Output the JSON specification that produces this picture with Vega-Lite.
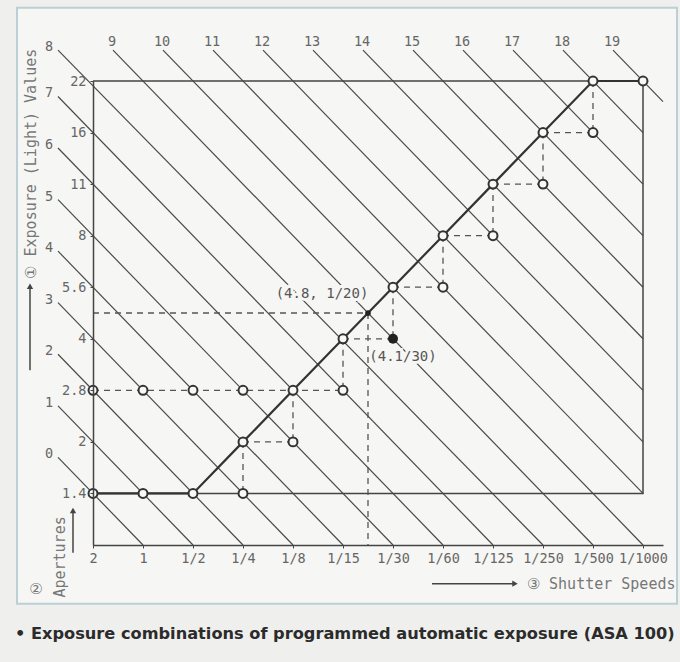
{
  "$schema": "https://vega.github.io/schema/vega-lite/v6.json",
  "width": 570,
  "height": 464,
  "autosize": {"type": "none"},
  "padding": {"left": 93, "top": 81, "right": 17, "bottom": 117},
  "background": "#efefed",
  "config": {"view": {"stroke": null}},
  "title": {
    "text": "• Exposure combinations of programmed automatic exposure (ASA 100)",
    "orient": "bottom",
    "anchor": "start",
    "frame": "group",
    "dx": -78,
    "offset": 21,
    "font": "DejaVu Sans",
    "fontSize": 16.2,
    "fontWeight": "bold",
    "color": "#2b2b2b"
  },
  "datasets": {
    "border": [{"s": -1.52, "a": 9.42, "s2": 11.68, "a2": -2.14}],
    "ev": [
      {"ev": 0, "s": -0.7, "a": 0.7, "s2": 1, "a2": -1},
      {"ev": 1, "s": -0.7, "a": 1.7, "s2": 2, "a2": -1},
      {"ev": 2, "s": -0.7, "a": 2.7, "s2": 3, "a2": -1},
      {"ev": 3, "s": -0.7, "a": 3.7, "s2": 4, "a2": -1},
      {"ev": 4, "s": -0.7, "a": 4.7, "s2": 5, "a2": -1},
      {"ev": 5, "s": -0.7, "a": 5.7, "s2": 6, "a2": -1},
      {"ev": 6, "s": -0.7, "a": 6.7, "s2": 7, "a2": -1},
      {"ev": 7, "s": -0.7, "a": 7.7, "s2": 8, "a2": -1},
      {"ev": 8, "s": -0.7, "a": 8.6, "s2": 9, "a2": -1},
      {"ev": 9, "s": 0.4, "a": 8.6, "s2": 10, "a2": -1},
      {"ev": 10, "s": 1.4, "a": 8.6, "s2": 11, "a2": -1},
      {"ev": 11, "s": 2.4, "a": 8.6, "s2": 11, "a2": 0},
      {"ev": 12, "s": 3.4, "a": 8.6, "s2": 11, "a2": 1},
      {"ev": 13, "s": 4.4, "a": 8.6, "s2": 11, "a2": 2},
      {"ev": 14, "s": 5.4, "a": 8.6, "s2": 11, "a2": 3},
      {"ev": 15, "s": 6.4, "a": 8.6, "s2": 11, "a2": 4},
      {"ev": 16, "s": 7.4, "a": 8.6, "s2": 11, "a2": 5},
      {"ev": 17, "s": 8.4, "a": 8.6, "s2": 11, "a2": 6},
      {"ev": 18, "s": 9.4, "a": 8.6, "s2": 11, "a2": 7},
      {"ev": 19, "s": 10.4, "a": 8.6, "s2": 11.4, "a2": 7.6}
    ],
    "frame": [
      {"i": 0, "s": 0, "a": 8},
      {"i": 1, "s": 11, "a": 8},
      {"i": 2, "s": 11, "a": 0},
      {"i": 3, "s": 0, "a": 0}
    ],
    "dash": [
      {"s": 0, "a": 2, "s2": 5, "a2": 2},
      {"s": 3, "a": 1, "s2": 4, "a2": 1},
      {"s": 3, "a": 1, "s2": 3, "a2": 0},
      {"s": 4, "a": 2, "s2": 4, "a2": 1},
      {"s": 5, "a": 3, "s2": 6, "a2": 3},
      {"s": 5, "a": 3, "s2": 5, "a2": 2},
      {"s": 6, "a": 4, "s2": 7, "a2": 4},
      {"s": 6, "a": 4, "s2": 6, "a2": 3},
      {"s": 7, "a": 5, "s2": 8, "a2": 5},
      {"s": 7, "a": 5, "s2": 7, "a2": 4},
      {"s": 8, "a": 6, "s2": 9, "a2": 6},
      {"s": 8, "a": 6, "s2": 8, "a2": 5},
      {"s": 9, "a": 7, "s2": 10, "a2": 7},
      {"s": 9, "a": 7, "s2": 9, "a2": 6},
      {"s": 10, "a": 8, "s2": 10, "a2": 7},
      {"s": 0, "a": 3.5, "s2": 5.5, "a2": 3.5},
      {"s": 5.5, "a": 3.5, "s2": 5.5, "a2": -1}
    ],
    "prog": [
      {"s": 0, "a": 0}, {"s": 1, "a": 0}, {"s": 2, "a": 0}, {"s": 3, "a": 1},
      {"s": 4, "a": 2}, {"s": 5, "a": 3}, {"s": 6, "a": 4}, {"s": 7, "a": 5},
      {"s": 8, "a": 6}, {"s": 9, "a": 7}, {"s": 10, "a": 8}, {"s": 11, "a": 8}
    ],
    "pts": [
      {"s": 0, "a": 0, "kind": "open"}, {"s": 1, "a": 0, "kind": "open"},
      {"s": 2, "a": 0, "kind": "open"}, {"s": 3, "a": 1, "kind": "open"},
      {"s": 4, "a": 2, "kind": "open"}, {"s": 5, "a": 3, "kind": "open"},
      {"s": 6, "a": 4, "kind": "open"}, {"s": 7, "a": 5, "kind": "open"},
      {"s": 8, "a": 6, "kind": "open"}, {"s": 9, "a": 7, "kind": "open"},
      {"s": 10, "a": 8, "kind": "open"}, {"s": 11, "a": 8, "kind": "open"},
      {"s": 0, "a": 2, "kind": "open"}, {"s": 1, "a": 2, "kind": "open"},
      {"s": 2, "a": 2, "kind": "open"}, {"s": 3, "a": 2, "kind": "open"},
      {"s": 5, "a": 2, "kind": "open"}, {"s": 3, "a": 0, "kind": "open"},
      {"s": 4, "a": 1, "kind": "open"}, {"s": 7, "a": 4, "kind": "open"},
      {"s": 8, "a": 5, "kind": "open"}, {"s": 9, "a": 6, "kind": "open"},
      {"s": 10, "a": 7, "kind": "open"},
      {"s": 6, "a": 3, "kind": "big"},
      {"s": 5.5, "a": 3.5, "kind": "small"}
    ],
    "ann": [
      {"t": "(4.8, 1/20)", "s": 4.58, "a": 3.86},
      {"t": "(4.1/30)", "s": 6.2, "a": 2.64}
    ],
    "notes": [
      {"t": "②", "s": -1.14, "a": -1.86}
    ],
    "vnotes": [
      {"t": "Apertures", "s": -0.66, "a": -2.02}
    ],
    "arrows": [
      {"s": -1.26, "a": 4.02, "s2": -1.26, "a2": 2.39, "dir": "up"},
      {"s": -0.4, "a": -0.33, "s2": -0.4, "a2": -1.15, "dir": "up"},
      {"s": 8.44, "a": -1.75, "s2": 6.78, "a2": -1.75, "dir": "right"}
    ]
  },
  "encoding": {
    "x": {
      "field": "s",
      "type": "quantitative",
      "scale": {"domain": [0, 11.4], "nice": false, "zero": false},
      "axis": {
        "zindex": 1,
        "values": [0, 1, 2, 3, 4, 5, 6, 7, 8, 9, 10, 11],
        "labelExpr": "['2','1','1/2','1/4','1/8','1/15','1/30','1/60','1/125','1/250','1/500','1/1000'][datum.value]",
        "grid": false,
        "domainColor": "#444",
        "domainWidth": 1.5,
        "tickColor": "#444",
        "tickSize": 3,
        "labelFont": "DejaVu Sans Mono",
        "labelFontSize": 13.5,
        "labelColor": "#666",
        "labelPadding": 3,
        "labelFlush": false,
        "labelOverlap": false,
        "title": "③ Shutter Speeds",
        "titleFont": "DejaVu Sans Mono",
        "titleFontSize": 15,
        "titleFontWeight": "normal",
        "titleColor": "#777",
        "titleX": 582,
        "titleY": 38,
        "titleAlign": "right",
        "titleBaseline": "middle"
      }
    },
    "y": {
      "field": "a",
      "type": "quantitative",
      "scale": {"domain": [-1, 8], "nice": false, "zero": false},
      "axis": {
        "zindex": 1,
        "values": [0, 1, 2, 3, 4, 5, 6, 7, 8],
        "labelExpr": "['1.4','2','2.8','4','5.6','8','11','16','22'][datum.value]",
        "grid": false,
        "domainColor": "#444",
        "domainWidth": 1.5,
        "tickColor": "#444",
        "tickSize": 3,
        "labelFont": "DejaVu Sans Mono",
        "labelFontSize": 13.5,
        "labelColor": "#666",
        "labelPadding": 4,
        "labelFlush": false,
        "labelOverlap": false,
        "title": "① Exposure (Light) Values",
        "titleFont": "DejaVu Sans Mono",
        "titleFontSize": 15,
        "titleFontWeight": "normal",
        "titleColor": "#777",
        "titleAngle": 270,
        "titleX": -63,
        "titleY": 197,
        "titleAlign": "left",
        "titleBaseline": "middle"
      }
    }
  },
  "layer": [
    {
      "data": {"name": "border"},
      "mark": {"type": "rect", "fill": "#f6f6f4", "stroke": "#bccfd4", "strokeWidth": 2},
      "encoding": {"x2": {"field": "s2"}, "y2": {"field": "a2"}}
    },
    {
      "data": {"name": "ev"},
      "mark": {"type": "rule", "color": "#4a4a4a", "strokeWidth": 1.2},
      "encoding": {"x2": {"field": "s2"}, "y2": {"field": "a2"}}
    },
    {
      "data": {"name": "frame"},
      "mark": {"type": "line", "color": "#444", "strokeWidth": 1.5},
      "encoding": {"order": {"field": "i", "type": "quantitative"}}
    },
    {
      "data": {"name": "dash"},
      "mark": {"type": "rule", "color": "#555", "strokeWidth": 1.3, "strokeDash": [6, 5]},
      "encoding": {"x2": {"field": "s2"}, "y2": {"field": "a2"}}
    },
    {
      "data": {"name": "prog"},
      "mark": {"type": "line", "color": "#333", "strokeWidth": 2.2},
      "encoding": {}
    },
    {
      "data": {"name": "pts"},
      "transform": [{"filter": "datum.kind == 'open'"}],
      "mark": {"type": "point", "shape": "circle", "filled": true, "fill": "#f8f8f6", "stroke": "#333", "strokeWidth": 2, "size": 80, "opacity": 1}
    },
    {
      "data": {"name": "pts"},
      "transform": [{"filter": "datum.kind == 'big'"}],
      "mark": {"type": "point", "shape": "circle", "filled": true, "color": "#222", "size": 100, "opacity": 1}
    },
    {
      "data": {"name": "pts"},
      "transform": [{"filter": "datum.kind == 'small'"}],
      "mark": {"type": "point", "shape": "circle", "filled": true, "color": "#222", "size": 32, "opacity": 1}
    },
    {
      "data": {"name": "ann"},
      "mark": {"type": "text", "font": "DejaVu Sans Mono", "fontSize": 14, "fill": "#f6f6f4", "stroke": "#f6f6f4", "strokeWidth": 6, "align": "center", "baseline": "middle"},
      "encoding": {"text": {"field": "t"}}
    },
    {
      "data": {"name": "ann"},
      "mark": {"type": "text", "font": "DejaVu Sans Mono", "fontSize": 14, "color": "#555", "align": "center", "baseline": "middle"},
      "encoding": {"text": {"field": "t"}}
    },
    {
      "data": {"name": "ev"},
      "transform": [{"filter": "datum.ev <= 8"}],
      "mark": {"type": "text", "font": "DejaVu Sans Mono", "fontSize": 13.5, "color": "#666", "align": "center", "baseline": "middle", "dx": -9, "dy": -3},
      "encoding": {"text": {"field": "ev"}}
    },
    {
      "data": {"name": "ev"},
      "transform": [{"filter": "datum.ev >= 9"}],
      "mark": {"type": "text", "font": "DejaVu Sans Mono", "fontSize": 13.5, "color": "#666", "align": "center", "baseline": "middle", "dx": -1, "dy": -8},
      "encoding": {"text": {"field": "ev"}}
    },
    {
      "data": {"name": "notes"},
      "mark": {"type": "text", "font": "DejaVu Sans", "fontSize": 15, "color": "#777", "align": "center", "baseline": "middle"},
      "encoding": {"text": {"field": "t"}}
    },
    {
      "data": {"name": "vnotes"},
      "mark": {"type": "text", "font": "DejaVu Sans Mono", "fontSize": 15, "color": "#777", "align": "left", "baseline": "middle", "angle": 270},
      "encoding": {"text": {"field": "t"}}
    },
    {
      "data": {"name": "arrows"},
      "mark": {"type": "rule", "color": "#444", "strokeWidth": 1.5},
      "encoding": {"x2": {"field": "s2"}, "y2": {"field": "a2"}}
    },
    {
      "data": {"name": "arrows"},
      "mark": {"type": "point", "filled": true, "color": "#444", "size": 40, "opacity": 1},
      "encoding": {
        "shape": {
          "field": "dir",
          "type": "nominal",
          "scale": {"domain": ["up", "right"], "range": ["triangle-up", "triangle-right"]},
          "legend": null
        }
      }
    }
  ]
}
